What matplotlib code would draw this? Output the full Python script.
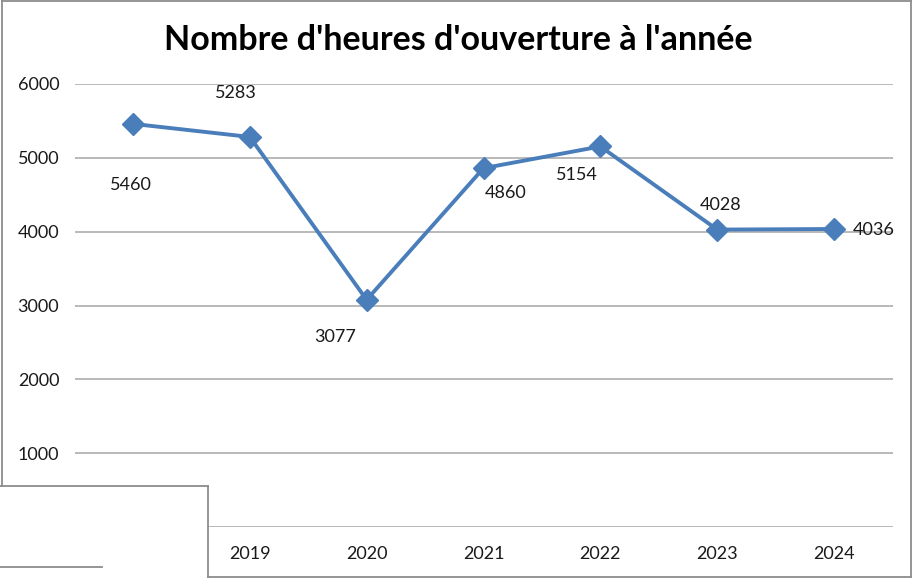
import matplotlib.pyplot as plt
from matplotlib.patches import Rectangle
from matplotlib.lines import Line2D

years = ["2018", "2019", "2020", "2021", "2022", "2023", "2024"]
heures = [5460, 5283, 3077, 4860, 5154, 4028, 4036]
yticks = [0, 1000, 2000, 3000, 4000, 5000, 6000]

# label offsets in pixels (dx, dy) relative to each point
offsets = [(-2, -61), (-14, 44), (-32, -37), (22, -25), (-23, -29), (3, 25), (40, -1)]

plt.rcParams['font.family'] = ['Lato', 'DejaVu Sans']

W, H = 915, 578
fig = plt.figure(figsize=(W / 100, H / 100), dpi=100)
ax = fig.add_axes([74.5 / W, 1 - 527 / H, (892.5 - 74.5) / W, (527 - 84) / H])

x = list(range(len(years)))
ax.plot(x, heures, color='#4A7EBB', linewidth=2.8, marker='D', markersize=11,
        zorder=3, clip_on=False)

for xi, v, (dx, dy) in zip(x, heures, offsets):
    ax.annotate(str(v), (xi, v), xytext=(dx, dy), textcoords='offset pixels',
                ha='center', va='center', fontsize=13, color='#1a1a1a')

ax.set_xlim(-0.5, len(years) - 0.5)
ax.set_ylim(0, 6000)
ax.set_yticks(yticks)
ax.set_yticklabels([str(t) for t in yticks])
ax.set_xticks(x)
ax.set_xticklabels(years)
ax.grid(axis='y', color='#A6A6A6', linewidth=1.1)
ax.set_axisbelow(True)
for s in ax.spines.values():
    s.set_visible(False)
ax.tick_params(axis='both', length=0, labelsize=13, labelcolor='#1a1a1a')
ax.tick_params(axis='y', pad=11)
ax.tick_params(axis='x', pad=14)

fig.text(458 / W, 1 - 40 / H, "Nombre d'heures d'ouverture à l'année",
         ha='center', va='center', fontsize=24.5, fontweight='bold')


def fx(px):
    return px / W


def fy(py):
    return 1 - py / H


# white box covering the lower left corner
fig.add_artist(Rectangle((0, 0), fx(208), fy(486), transform=fig.transFigure,
                         facecolor='white', edgecolor='none', zorder=5))

border = '#8C8C8C'
segs = [
    [(2, 1), (2, 486)],
    [(2, 1), (911, 1)],
    [(911, 1), (911, 577)],
    [(208, 577), (911, 577)],
    [(0, 486), (208, 486)],
    [(208, 486), (208, 577)],
    [(0, 567), (102, 567)],
]
for (x0, y0), (x1, y1) in segs:
    fig.add_artist(Line2D([fx(x0), fx(x1)], [fy(y0), fy(y1)], transform=fig.transFigure,
                          color=border, linewidth=1.3, zorder=6))

fig.savefig('out.png', dpi=100)
